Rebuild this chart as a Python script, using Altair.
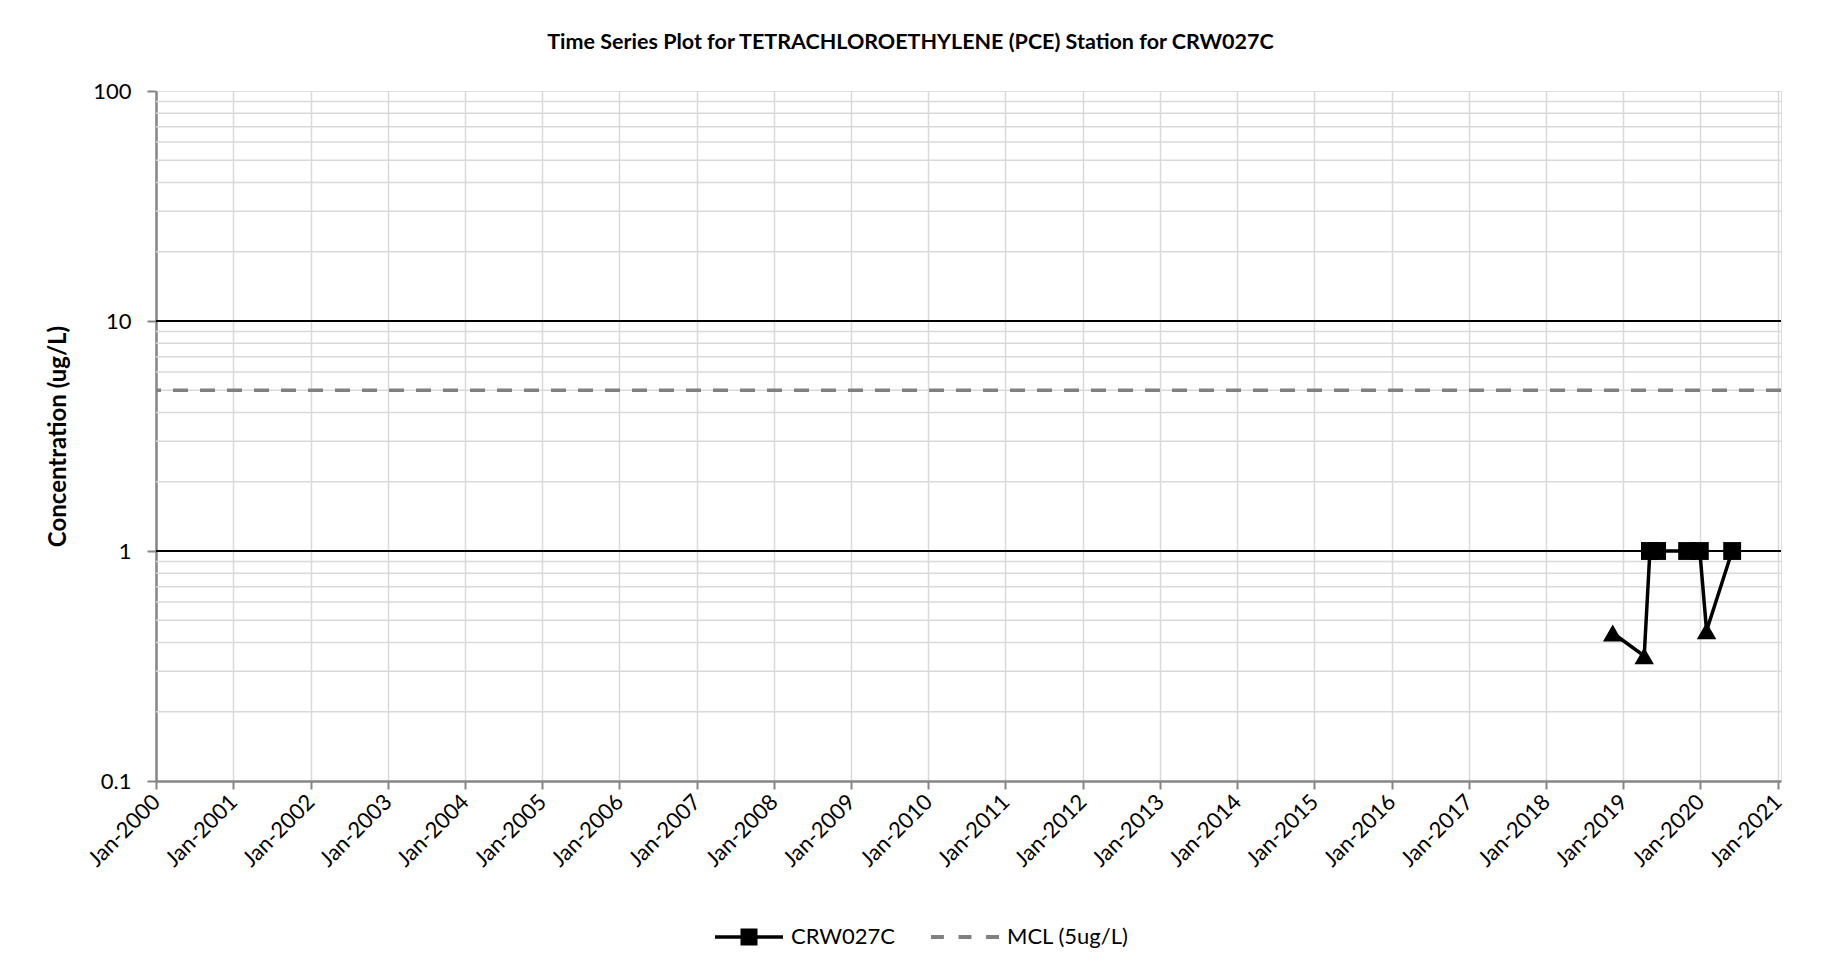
import altair as alt
import pandas as pd

# ---- data ----
sample_dates = ["2018-11-12", "2019-04-10", "2019-05-07", "2019-06-10",
                "2019-10-30", "2019-12-29", "2020-01-30", "2020-05-30"]
sample_values = [0.44, 0.35, 1.0, 1.0, 1.0, 1.0, 0.45, 1.0]
sample_flags = ["ND", "ND", "D", "D", "D", "D", "ND", "D"]   # ND = triangle, D = square
station = "CRW027C"
mcl_label = "MCL (5ug/L)"
mcl_value = [5.0]
tick_years = list(range(2000, 2022))
y_labels = [0.1, 1, 10, 100]
y_major_grid = [1, 10]
y_minor_grid = [0.2, 0.3, 0.4, 0.5, 0.6, 0.7, 0.8, 0.9,
                2, 3, 4, 5, 6, 7, 8, 9,
                20, 30, 40, 50, 60, 70, 80, 90]
title_text = "Time Series Plot for TETRACHLOROETHYLENE (PCE) Station for CRW027C"
y_title = "Concentration (ug/L)"

FONT = "Lato"
GRID = "#d9d9d9"
FRAME = "#868686"
MCL_GRAY = "#808080"

df = pd.DataFrame({
    "date": [d + "T00:00:00" for d in sample_dates],
    "value": sample_values,
    "flag": sample_flags,
})
mcl_df = pd.DataFrame({"value": mcl_value})
minor_df = pd.DataFrame({"value": y_minor_grid})
major_df = pd.DataFrame({"value": y_major_grid})
legend_station_df = pd.DataFrame({"series": [station]})
legend_mcl_df = pd.DataFrame({"series": [mcl_label]})

x_scale = alt.Scale(domain=[alt.DateTime(year=2000, month=1, date=1),
                            alt.DateTime(year=2021, month=1, date=16)])
y_scale = alt.Scale(type="log", domain=[0.1, 100], nice=False)

x_axis = alt.Axis(
    values=[alt.DateTime(year=y, month=1, date=1) for y in tick_years],
    format="%b-%Y", labelAngle=315, labelAlign="right", labelBaseline="middle",
    labelFont=FONT, labelFontSize=22, labelColor="black", labelPadding=9,
    labelOverlap=False, labelFlush=False, labelBound=False,
    tickSize=8, tickColor=FRAME, tickWidth=2,
    domainColor=FRAME, domainWidth=2.5,
    grid=True, gridColor=GRID, gridWidth=1.5, title=None,
)
y_axis = alt.Axis(
    values=y_labels, format="~g", labelFont=FONT, labelFontSize=22,
    labelColor="black", labelPadding=16, tickSize=9, tickColor=FRAME,
    tickWidth=2, domainColor=FRAME, domainWidth=2.5, grid=False,
    title=y_title, titleFont=FONT, titleFontSize=24, titleFontWeight="bold",
    titleColor="black", titlePadding=22,
)

# legend glyphs: line with square marker / three grey dashes (unit box -1..1)
crw_path = ("M-1,-0.05L1,-0.05L1,0.05L-1,0.05Z"
            "M-0.25,-0.25L0.25,-0.25L0.25,0.25L-0.25,0.25Z")
mcl_path = ("M-1,-0.06L-0.62,-0.06L-0.62,0.06L-1,0.06Z"
            "M-0.19,-0.06L0.19,-0.06L0.19,0.06L-0.19,0.06Z"
            "M0.62,-0.06L1,-0.06L1,0.06L0.62,0.06Z")
legend_common = dict(title=None, orient="none", legendY=812, direction="horizontal",
                     labelFont=FONT, labelFontSize=22, labelColor="black",
                     labelOffset=8, symbolSize=4624, symbolStrokeWidth=0)

minor = alt.Chart(minor_df).mark_rule(color=GRID, strokeWidth=1.5).encode(
    y=alt.Y("value:Q", scale=y_scale, axis=y_axis))
major = alt.Chart(major_df).mark_rule(color="black", strokeWidth=2).encode(
    y=alt.Y("value:Q", scale=y_scale))
mcl = alt.Chart(mcl_df).mark_rule(strokeWidth=3.5, color=MCL_GRAY,
                                  strokeDash=[15, 12]).encode(
    y=alt.Y("value:Q", scale=y_scale))
line = alt.Chart(df).mark_line(strokeWidth=3.5, color="black").encode(
    x=alt.X("date:T", scale=x_scale, axis=x_axis),
    y=alt.Y("value:Q", scale=y_scale))
squares = alt.Chart(df).transform_filter(alt.datum.flag == "D").mark_square(
    size=320, color="black", opacity=1).encode(
    x=alt.X("date:T", scale=x_scale),
    y=alt.Y("value:Q", scale=y_scale))
triangles = alt.Chart(df).transform_filter(alt.datum.flag == "ND").mark_point(
    shape="triangle-up", filled=True, size=380, color="black", opacity=1).encode(
    x=alt.X("date:T", scale=x_scale),
    y=alt.Y("value:Q", scale=y_scale))
# legend-only layers (invisible marks, visible legend entries)
legend_station = alt.Chart(legend_station_df).mark_point(filled=True, opacity=0).encode(
    color=alt.Color("series:N", scale=alt.Scale(domain=[station], range=["black"]),
                    legend=alt.Legend(legendX=559, symbolType=crw_path, **legend_common)))
legend_mcl = alt.Chart(legend_mcl_df).mark_point(filled=True, opacity=0).encode(
    fill=alt.Fill("series:N", scale=alt.Scale(domain=[mcl_label], range=[MCL_GRAY]),
                  legend=alt.Legend(legendX=775, symbolType=mcl_path, **legend_common)))

chart = alt.layer(minor, major, mcl, line, squares, triangles,
                  legend_station, legend_mcl).properties(
    width=1625, height=690,
    title=alt.TitleParams(title_text, font=FONT, fontSize=21.5, fontWeight="bold",
                          color="black", anchor="middle", dx=-58, offset=27),
    autosize=alt.AutoSizeParams(type="none"),
    padding={"left": 148, "top": 83, "right": 48, "bottom": 180},
).configure_view(stroke=FRAME, strokeWidth=2.5).configure(background="white")

chart.save("out.html", embed_options={"renderer": "svg", "actions": False})
